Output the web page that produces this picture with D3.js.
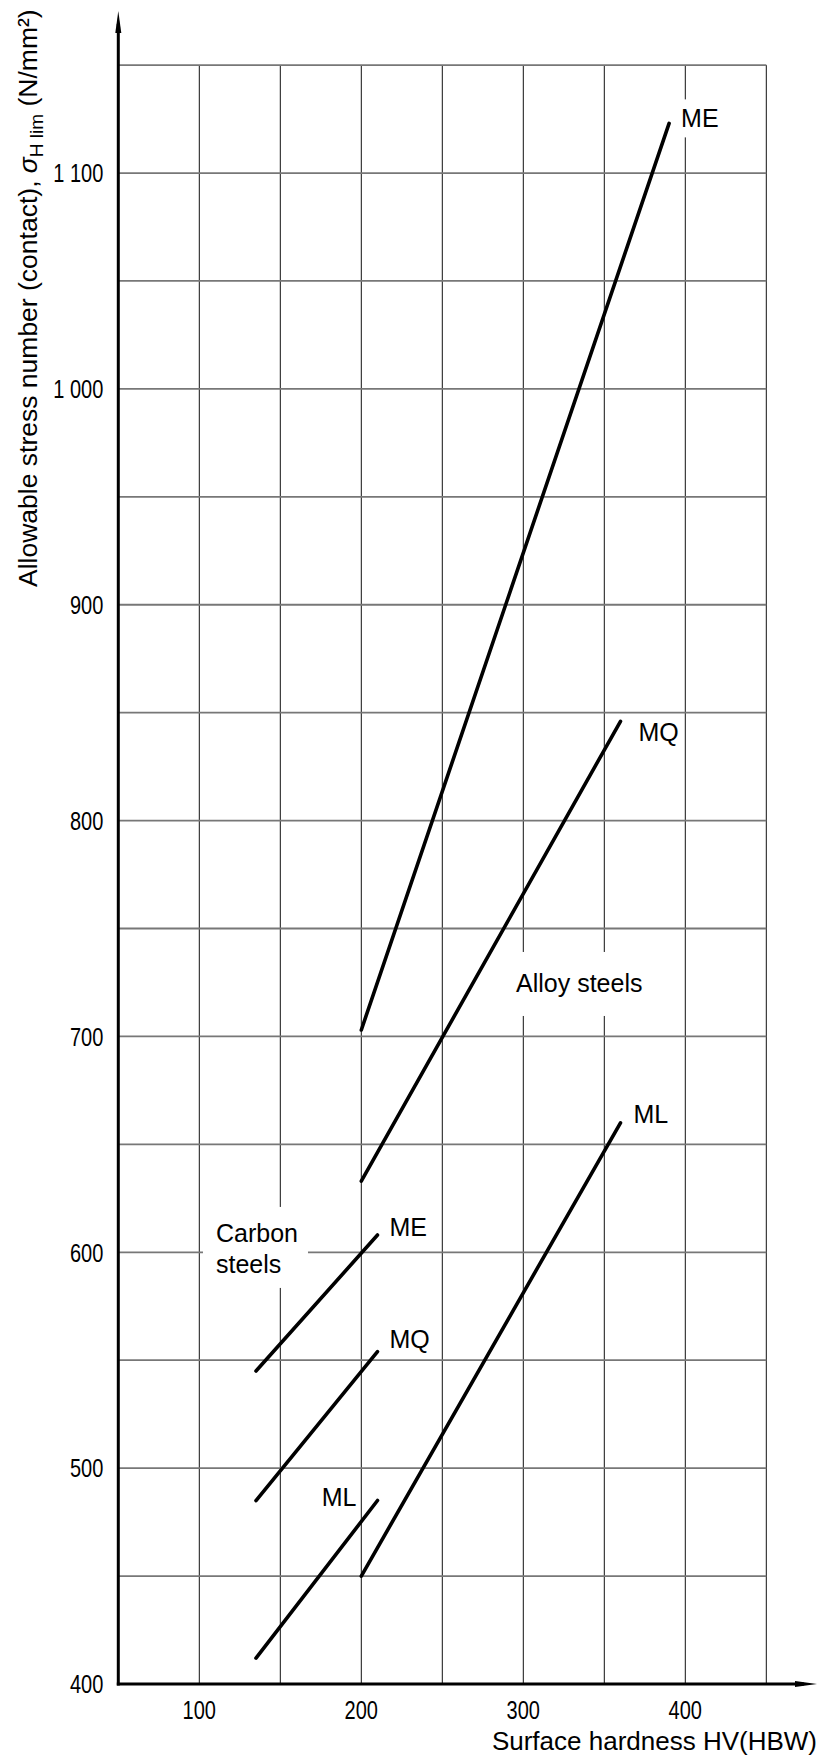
<!DOCTYPE html>
<html>
<head>
<meta charset="utf-8">
<script src="https://cdn.jsdelivr.net/npm/d3@7"></script>
<style>
  html, body { margin: 0; padding: 0; background: #fff; }
  svg { display: block; }
</style>
</head>
<body>
<svg id="chart" width="819" height="1760"></svg>
<script>
// Axis ticks and grid positions
const xTicks = [100, 200, 300, 400];
const xTickLabels = ["100", "200", "300", "400"];
const yTicks = [400, 500, 600, 700, 800, 900, 1000, 1100];
const yTickLabels = ["400", "500", "600", "700", "800", "900", "1 000", "1 100"];
const xGrid = [100, 150, 200, 250, 300, 350, 400, 450];
const yGrid = [450, 500, 550, 600, 650, 700, 750, 800, 850, 900, 950, 1000, 1050, 1100, 1150];

// Curve end points: [surface hardness HV, allowable stress N/mm²]
const carbonML = [[135, 412], [210, 485]];
const carbonMQ = [[135, 485], [210, 554]];
const carbonME = [[135, 545], [210, 608]];
const alloyML  = [[200, 450], [360, 660]];
const alloyMQ  = [[200, 633], [360, 846]];
const alloyME  = [[200, 703], [390, 1123]];

const curveNames = ["ML", "MQ", "ME", "ML", "MQ", "ME"];

const FONT = "'Liberation Sans', Arial, Helvetica, sans-serif";
const svg = d3.select("#chart");

const x = d3.scaleLinear().domain([50, 450]).range([118.3, 766.3]);
const y = d3.scaleLinear().domain([400, 1150]).range([1684, 65.1]);

// Grid
const grid = svg.append("g");
grid.selectAll("line.v").data(xGrid).join("line")
  .attr("x1", d => x(d)).attr("x2", d => x(d))
  .attr("y1", y(1150)).attr("y2", y(400))
  .attr("stroke", "#111").attr("stroke-width", 1);
grid.selectAll("line.h").data(yGrid).join("line")
  .attr("x1", x(50)).attr("x2", x(450))
  .attr("y1", d => y(d)).attr("y2", d => y(d))
  .attr("stroke", "#777").attr("stroke-width", 1.8);

// Label backgrounds (white knock-outs over the grid), curves, labels
const bgLayer = svg.append("g");
const lineLayer = svg.append("g");
const textLayer = svg.append("g")
  .attr("font-family", FONT).attr("font-size", 25).attr("fill", "#000");

const curves = [
  { pts: carbonML, dx: -21, dy: 5, anchor: "end" },
  { pts: carbonMQ, dx: 12, dy: -4, anchor: "start" },
  { pts: carbonME, dx: 12, dy: 1, anchor: "start" },
  { pts: alloyML,  dx: 13, dy: 0, anchor: "start" },
  { pts: alloyMQ,  dx: 18, dy: 20, anchor: "start" },
  { pts: alloyME,  dx: 12, dy: 4, anchor: "start", pad: [6, 5] }
];
const line = d3.line().x(d => x(d[0])).y(d => y(d[1]));

lineLayer.selectAll("path").data(curves).join("path")
  .attr("d", d => line(d.pts))
  .attr("fill", "none").attr("stroke", "#000")
  .attr("stroke-width", 3.6).attr("stroke-linecap", "round");

curves.forEach((c, i) => {
  const end = c.pts[c.pts.length - 1];
  const t = textLayer.append("text")
    .attr("x", x(end[0]) + c.dx)
    .attr("y", y(end[1]) + c.dy)
    .attr("text-anchor", c.anchor)
    .text(curveNames[i]);
  if (c.pad) {
    const b = t.node().getBBox();
    bgLayer.append("rect")
      .attr("x", b.x - c.pad[0]).attr("y", b.y - c.pad[1])
      .attr("width", b.width + 2 * c.pad[0]).attr("height", b.height + 2 * c.pad[1])
      .attr("fill", "#fff");
  }
});

// Group labels
const alloyText = textLayer.append("text")
  .attr("x", x(295.5)).attr("y", y(720.6))
  .text("Alloy steels");
{
  const b = alloyText.node().getBBox();
  bgLayer.append("rect")
    .attr("x", b.x - 11).attr("y", b.y - 17)
    .attr("width", b.width + 24).attr("height", b.height + 36)
    .attr("fill", "#fff");
}
const carbonText = textLayer.append("text")
  .attr("x", x(110.3)).attr("y", y(604.8));
carbonText.append("tspan").text("Carbon");
carbonText.append("tspan").attr("x", x(110.3)).attr("dy", 31).text("steels");
{
  const b = carbonText.node().getBBox();
  bgLayer.append("rect")
    .attr("x", b.x - 13).attr("y", b.y - 12)
    .attr("width", b.width + 23).attr("height", b.height + 22)
    .attr("fill", "#fff");
}

// Axes with arrow heads
const axes = svg.append("g");
axes.append("line")
  .attr("x1", x(50)).attr("x2", x(50))
  .attr("y1", y(400) + 1.5).attr("y2", 24)
  .attr("stroke", "#000").attr("stroke-width", 3);
axes.append("path")
  .attr("d", `M${x(50)},11 L${x(50) - 3},33 L${x(50) + 3},33 Z`)
  .attr("fill", "#000");
axes.append("line")
  .attr("x1", x(50) - 1.5).attr("x2", 804)
  .attr("y1", y(400)).attr("y2", y(400))
  .attr("stroke", "#000").attr("stroke-width", 3);
axes.append("path")
  .attr("d", `M817,${y(400)} L795,${y(400) - 3} L795,${y(400) + 3} Z`)
  .attr("fill", "#000");

// Tick labels (narrow lettering)
const SX = 0.8;
const yAxis = svg.append("g")
  .attr("transform", `translate(${x(50)},0)`)
  .call(d3.axisLeft(y).tickValues(yTicks)
    .tickFormat((d, i) => yTickLabels[i]).tickSize(0).tickPadding(15));
yAxis.select(".domain").remove();
yAxis.selectAll("text")
  .attr("font-family", FONT).attr("font-size", 25).attr("fill", "#000")
  .attr("x", -15 / SX).attr("dy", "0.35em")
  .attr("transform", `scale(${SX},1)`);

const xAxis = svg.append("g")
  .attr("transform", `translate(0,${y(400)})`)
  .call(d3.axisBottom(x).tickValues(xTicks)
    .tickFormat((d, i) => xTickLabels[i]).tickSize(0));
xAxis.select(".domain").remove();
xAxis.selectAll(".tick text")
  .attr("font-family", FONT).attr("font-size", 25).attr("fill", "#000")
  .attr("y", 35).attr("dy", 0)
  .attr("transform", `scale(${SX},1)`);
xAxis.selectAll(".tick")
  .attr("transform", d => `translate(${x(d)},0)`);

// Axis titles
svg.append("text")
  .attr("x", 817).attr("y", 1750)
  .attr("text-anchor", "end")
  .attr("font-family", FONT).attr("font-size", 26).attr("fill", "#000")
  .text("Surface hardness HV(HBW)");

const yTitle = svg.append("text")
  .attr("transform", "translate(37,587) rotate(-90)")
  .attr("font-family", FONT).attr("font-size", 26.5).attr("fill", "#000");
yTitle.append("tspan").text("Allowable stress number (contact), ");
yTitle.append("tspan").attr("font-style", "italic").text("σ");
yTitle.append("tspan").attr("font-size", 19).attr("dy", 6).text("H lim");
yTitle.append("tspan").attr("dy", -6).text(" (N/mm²)");
</script>
</body>
</html>
